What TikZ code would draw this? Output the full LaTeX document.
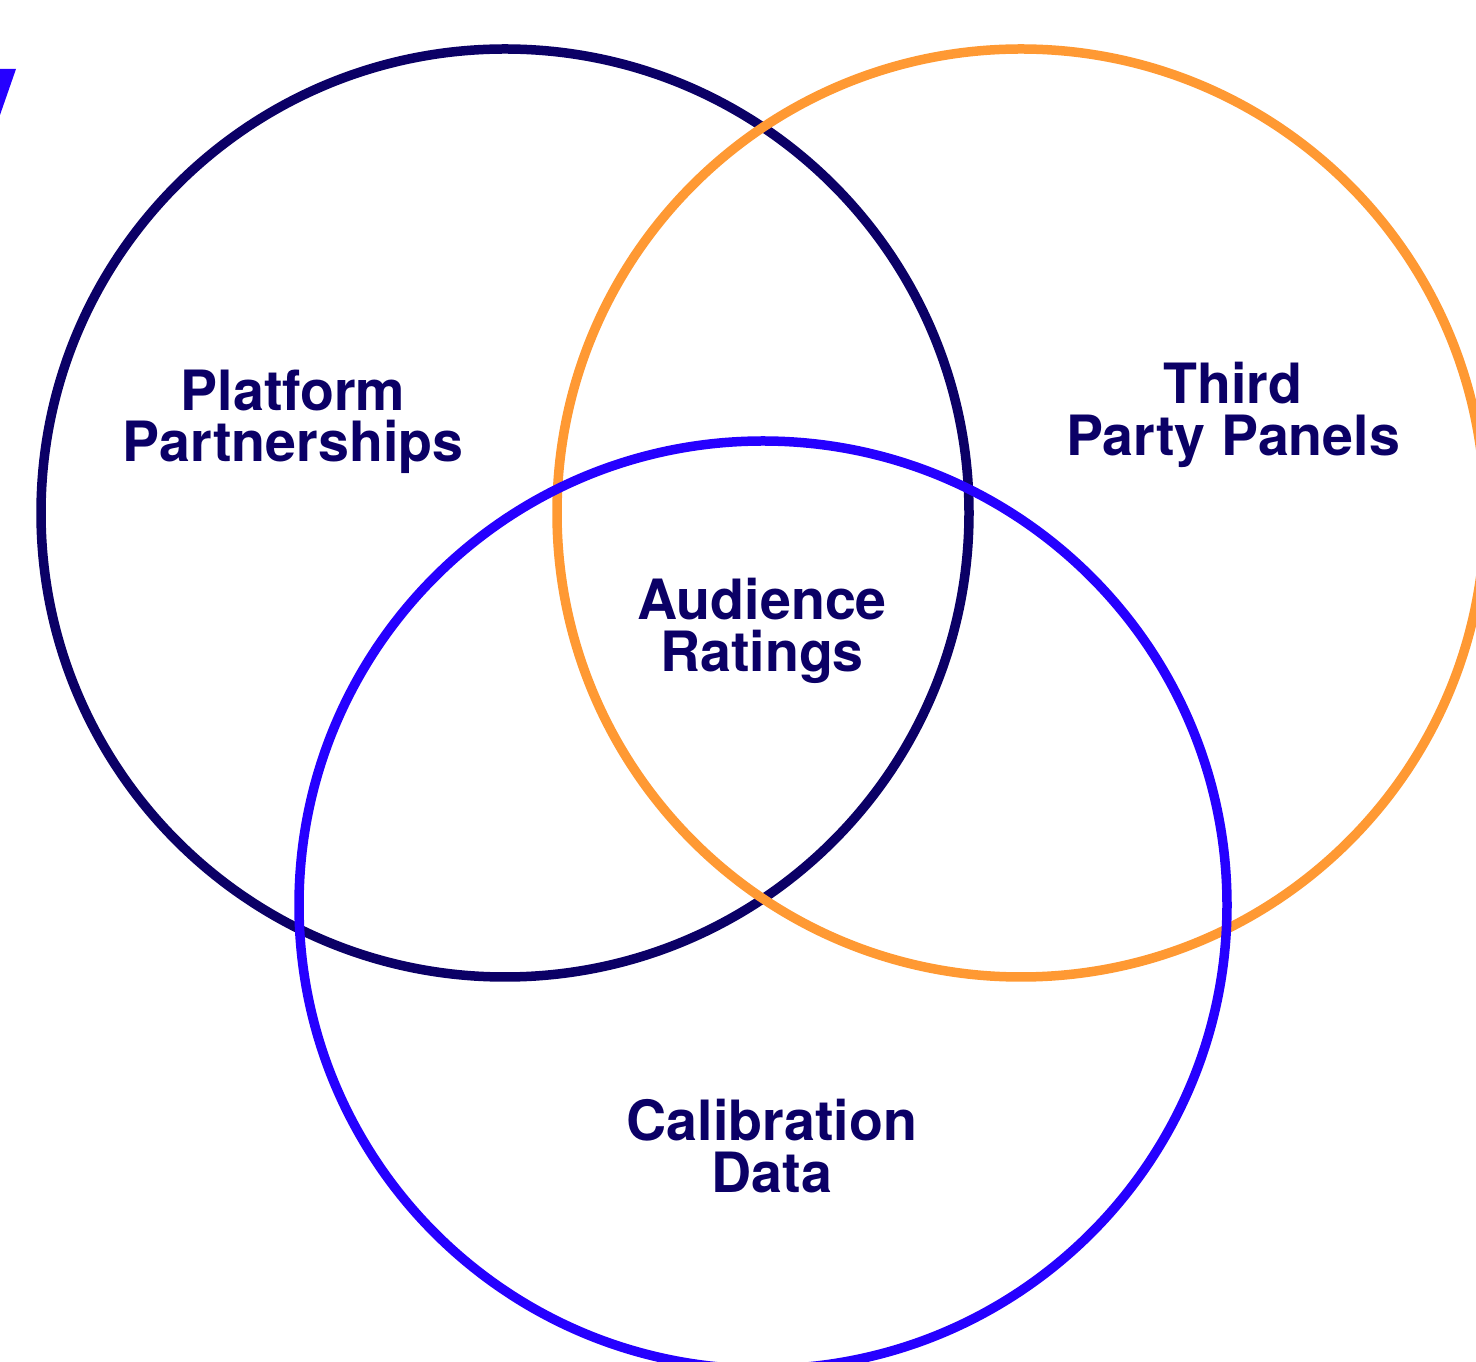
\documentclass[tikz,border=0pt]{standalone}
\usepackage{fontspec}
\setmainfont{TeX Gyre Heros}
\usepackage{tikz}
\usetikzlibrary{positioning}

\definecolor{navy}{HTML}{0B0066}
\definecolor{brightblue}{HTML}{2600FF}
\definecolor{panelorange}{HTML}{FF9933}

\begin{document}
\begin{tikzpicture}[x=0.1mm,y=-0.1mm,
    ring/.style = {line width=0.95mm},
    setlabel/.style = {align=center, text=navy, inner sep=0pt,
        font=\fontsize{15.8}{14.6}\selectfont\bfseries}]
\useasboundingbox (0,0) rectangle (1476,1362);
\begin{scope}
\clip (0,0) rectangle (1476,1362);
%\fill[white] (0,0) rectangle (1476,1362);
\fill[brightblue] (0,69) -- (16,69) -- (0,115) -- cycle;
\coordinate (platform) at (505,513);
\coordinate (panels) at (1021,513);
\coordinate (calib) at (763,905);
\draw[ring, navy] (platform) circle (464);
\draw[ring, panelorange] (panels) circle (464);
\draw[ring, brightblue] (calib) circle (464);
\end{scope}
\node[setlabel] (lplatform) at (293,422) {Platform\\Partnerships};
\node[setlabel] (lpanels) at (1233,415) {Third\\Party Panels};
\node[setlabel] (lratings) at (762,631) {Audience\\Ratings};
\node[setlabel] (lcalib) at (772,1146) {Calibration\\Data};
\end{tikzpicture}
\end{document}
